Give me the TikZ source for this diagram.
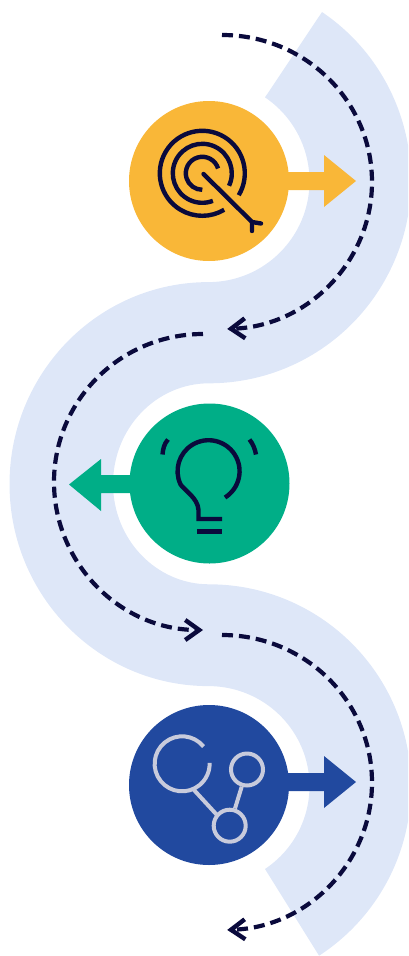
\documentclass[tikz,border=0pt]{standalone}
\usetikzlibrary{arrows.meta}
\definecolor{bandc}{HTML}{DEE7F8}
\definecolor{orangec}{HTML}{F9B738}
\definecolor{greenc}{HTML}{00AE87}
\definecolor{bluec}{HTML}{21499F}
\definecolor{navyc}{HTML}{0A0A3C}
\definecolor{iconc}{HTML}{C8CBDC}
\tikzset{
  disc/.style={circle,minimum size=160pt,inner sep=0pt,outer sep=0pt,draw=none},
  flowline/.style={navyc,line width=4.2pt,dash pattern=on 11pt off 6pt,-{Straight Barb[length=14pt,width=20pt,line width=4.4pt]}},
  iconline/.style={navyc,line width=4.4pt},
  netline/.style={iconc,line width=4pt},
}
\begin{document}
\begin{tikzpicture}[x=1pt,y=-1pt]
\useasboundingbox (0,0) rectangle (408,956);
\clip (0,0) rectangle (408,956);
% band
\fill[bandc] (322,12)
  arc[x radius=202,y radius=203,start angle=-56,end angle=90]
  arc[x radius=96,y radius=100.5,start angle=-90,end angle=-270]
  arc[x radius=202,y radius=202,start angle=-90,end angle=57]
  -- (265,869)
  arc[x radius=101,y radius=100,start angle=56,end angle=-90]
  arc[x radius=199,y radius=202,start angle=90,end angle=270]
  arc[x radius=101,y radius=101,start angle=90,end angle=-56]
  -- cycle;
% discs
\node[disc,fill=orangec] (goal) at (209,181) {};
\node[disc,fill=greenc] (idea) at (209.5,483.5) {};
\node[disc,fill=bluec] (net) at (209,785) {};
% block arrows
\fill[orangec] (285,172) -- (324,172) -- (324,155) -- (356,181) -- (324,207) -- (324,190) -- (285,190) -- cycle;
\fill[greenc] (134,475) -- (101,475) -- (101,459) -- (69,484.5) -- (101,511) -- (101,493) -- (134,493) -- cycle;
\fill[bluec] (285,773) -- (324,773) -- (324,756) -- (356,782) -- (324,808) -- (324,791) -- (285,791) -- cycle;
% dashed flows
\draw[flowline] (222,35) arc[x radius=150,y radius=147,start angle=-90,end angle=88];
\draw[flowline] (203,334) arc[x radius=149,y radius=148,start angle=-90,end angle=-270];
\draw[flowline] (222,635) arc[x radius=150,y radius=147.5,start angle=-90,end angle=88];
% target icon
\begin{scope}[shift={(202.3,173.3)}]
\draw[iconline] (31:42.5) arc[radius=42.5,start angle=31,end angle=-301];
\draw[iconline] (25:29.5) arc[radius=29.5,start angle=25,end angle=-291];
\draw[iconline] (-17:16.5) arc[radius=16.5,start angle=-17,end angle=-270];
\end{scope}
\draw[iconline,line cap=round] (203.5,174) -- (252,222);
\draw[iconline,line cap=round] (261,223.5) -- (252,222) -- (252,231);
% bulb icon
\draw[iconline,line join=miter] (225,497.5)
  arc[radius=31,start angle=58,end angle=-205]
  .. controls (184,490) and (198,498) .. (198.5,510)
  -- (198.5,519) -- (222,519);
\draw[iconline] (197,531.5) -- (222,531.5);
\draw[iconline] (168,439.5) .. controls (164,444) and (163,449) .. (162.5,454.5);
\draw[iconline] (249.5,439.5) .. controls (253,444) and (255,449) .. (256,454.5);
% network icon
\draw[netline] (203.5,746.5) arc[radius=27.5,start angle=-39,end angle=-362];
\draw[netline] (194,790) -- (217,815);
\node[circle,draw=iconc,line width=4pt,minimum size=32pt,inner sep=0pt] (nodea) at (247,769.5) {};
\node[circle,draw=iconc,line width=4pt,minimum size=32pt,inner sep=0pt] (nodeb) at (229.7,825.7) {};
\draw[netline] (nodea) -- (nodeb);
\end{tikzpicture}
\end{document}
